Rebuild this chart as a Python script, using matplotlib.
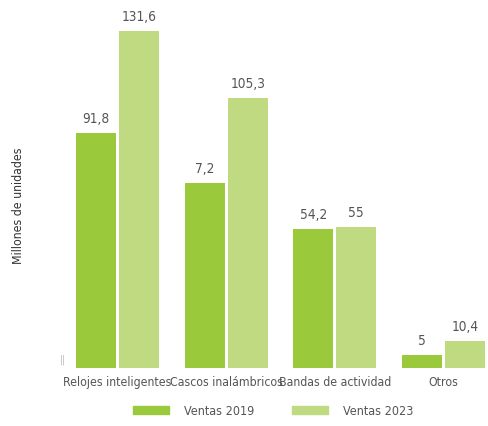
import numpy as np
import matplotlib
matplotlib.use('Agg')
import matplotlib.pyplot as plt
from matplotlib.patches import Patch

categories = ["Relojes inteligentes", "Cascos inalámbricos", "Bandas de actividad", "Otros"]
ventas_2019 = [91.8, 72, 54.2, 5]
ventas_2023 = [131.6, 105.3, 55, 10.4]
# labels as printed in the source (the second one reads 7,2 there)
labels_2019 = ["91,8", "7,2", "54,2", "5"]
labels_2023 = ["131,6", "105,3", "55", "10,4"]
series_names = ["Ventas 2019", "Ventas 2023"]

c2019 = "#9ACA3C"
c2023 = "#BFDA80"
txt = "#555555"

plt.rcParams['font.family'] = ['DejaVu Sans']
plt.rcParams['font.stretch'] = 'condensed'

fig = plt.figure(figsize=(4.88, 4.26), dpi=100)
ax = fig.add_axes([0.123, 0.136, 0.877, 0.864])

x = np.arange(len(categories))
w = 0.368
off = 0.198
b1 = ax.bar(x - off, ventas_2019, w, color=c2019)
b2 = ax.bar(x + off, ventas_2023, w, color=c2023)

for bars, labs in ((b1, labels_2019), (b2, labels_2023)):
    for rect, lab in zip(bars, labs):
        ax.annotate(lab, (rect.get_x() + rect.get_width() / 2, rect.get_height()),
                    xytext=(0, 5), textcoords="offset points",
                    ha="center", va="bottom", fontsize=9.8, color=txt)

ax.set_xlim(-0.53, 3.41)
ax.set_ylim(0, 143.5)
ax.set_xticks(x)
ax.set_xticklabels(categories, fontsize=8.8, color=txt)
ax.tick_params(axis='x', length=0, pad=6)
ax.set_yticks([])
for s in ax.spines.values():
    s.set_visible(False)

# axis break mark
ax.text(-0.5, 1, "||", transform=ax.transData, fontsize=7, color="#bbbbbb",
        ha="center", va="bottom")

fig.text(0.037, 0.516, "Millones de unidades", rotation=90, ha="center",
         va="center", fontsize=8.8, color="#333333")

handles = [Patch(color=c2019), Patch(color=c2023)]
lgd = fig.legend(handles, series_names, loc="center", bbox_to_anchor=(0.56, 0.035),
                 ncol=2, frameon=False, fontsize=9, handlelength=2.9,
                 handleheight=0.55, handletextpad=1.2, columnspacing=3.0)
for t in lgd.get_texts():
    t.set_color(txt)

plt.savefig("out.png", dpi=100)
